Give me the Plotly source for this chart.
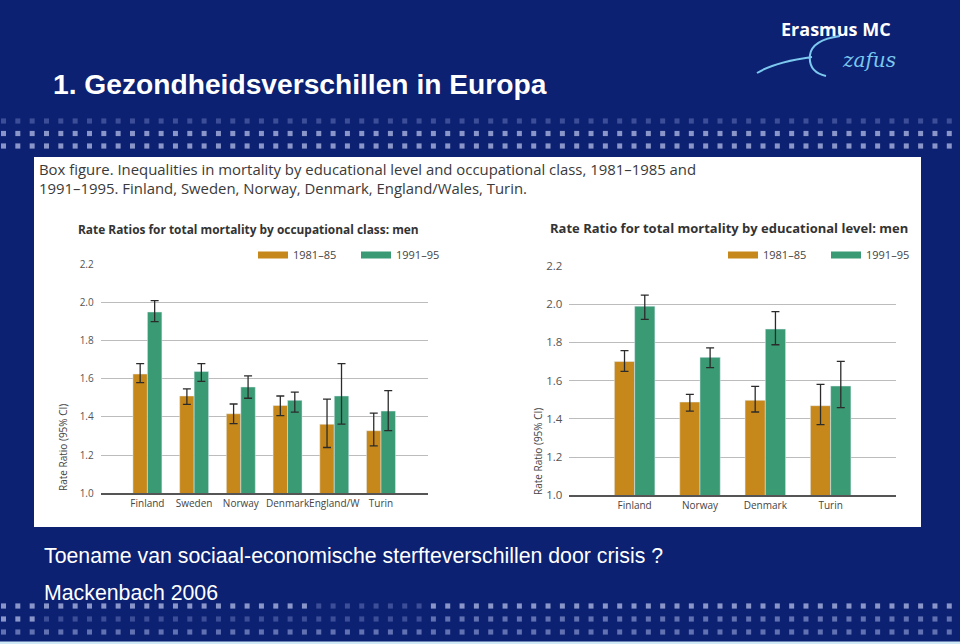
import plotly.graph_objects as go

W, H = 960, 644


def px(x):
    return x / W


def py(y):
    return 1 - y / H


# ---------------- data ----------------
occ_countries = ["Finland", "Sweden", "Norway", "Denmark", "England/W", "Turin"]
occ_1981 = [1.625, 1.51, 1.417, 1.46, 1.362, 1.328]
occ_1981_hi = [1.68, 1.547, 1.468, 1.51, 1.493, 1.42]
occ_1981_lo = [1.58, 1.466, 1.365, 1.407, 1.24, 1.248]
occ_1991 = [1.95, 1.638, 1.557, 1.487, 1.51, 1.431]
occ_1991_hi = [2.01, 1.68, 1.615, 1.53, 1.68, 1.538]
occ_1991_lo = [1.90, 1.587, 1.498, 1.425, 1.363, 1.328]

edu_countries = ["Finland", "Norway", "Denmark", "Turin"]
edu_1981 = [1.70, 1.488, 1.497, 1.469]
edu_1981_hi = [1.757, 1.528, 1.570, 1.581]
edu_1981_lo = [1.649, 1.441, 1.436, 1.370]
edu_1991 = [1.99, 1.722, 1.870, 1.572]
edu_1991_hi = [2.048, 1.771, 1.961, 1.701]
edu_1991_lo = [1.921, 1.668, 1.788, 1.459]

period_labels = ["1981–85", "1991–95"]
y_ticks = [1.0, 1.2, 1.4, 1.6, 1.8, 2.0, 2.2]

# ---------------- style ----------------
NAVY = "#0c2172"
ORANGE = "#c7881b"
GREEN = "#3a9a74"
ERR = "#2b2b2b"
FONT = "Open Sans"


def err(v, hi, lo):
    return dict(type="data", symmetric=False,
                array=[h - a for a, h in zip(v, hi)],
                arrayminus=[a - l for a, l in zip(v, lo)],
                color=ERR, thickness=1.3, width=4)


fig = go.Figure()

# left chart
fig.add_trace(go.Bar(x=occ_countries, y=occ_1981, marker_color=ORANGE,
                     error_y=err(occ_1981, occ_1981_hi, occ_1981_lo),
                     xaxis="x", yaxis="y", showlegend=False))
fig.add_trace(go.Bar(x=occ_countries, y=occ_1991, marker_color=GREEN,
                     error_y=err(occ_1991, occ_1991_hi, occ_1991_lo),
                     xaxis="x", yaxis="y", showlegend=False))
# right chart
fig.add_trace(go.Bar(x=edu_countries, y=edu_1981, marker_color=ORANGE,
                     error_y=err(edu_1981, edu_1981_hi, edu_1981_lo),
                     xaxis="x2", yaxis="y2", showlegend=False))
fig.add_trace(go.Bar(x=edu_countries, y=edu_1991, marker_color=GREEN,
                     error_y=err(edu_1991, edu_1991_hi, edu_1991_lo),
                     xaxis="x2", yaxis="y2", showlegend=False))

# legend entries (wide swatches)
for lg, xa, ya in (("legend", "x", "y"), ("legend2", "x2", "y2")):
    for name, col in zip(period_labels, (ORANGE, GREEN)):
        fig.add_trace(go.Scatter(x=[None], y=[None], mode="lines", name=name,
                                 line=dict(color=col, width=7),
                                 xaxis=xa, yaxis=ya, legend=lg, showlegend=True))

axis_common_x = dict(type="category", showgrid=False, ticks="", showline=True,
                     linecolor="#555555", linewidth=1.5, tickangle=0,
                     tickfont=dict(family=FONT, size=10, color="#444444"),
                     fixedrange=True)


def yaxis_style(fs):
    return dict(range=[1.0, 2.2], tickvals=y_ticks, tickformat=".1f",
                showgrid=True, gridcolor="#bcbcbc", gridwidth=1.2,
                zeroline=False, showline=False, ticks="",
                ticklabelstandoff=6,
                tickfont=dict(family=FONT, size=fs, color="#555555"),
                fixedrange=True)


legend_common = dict(orientation="h", yanchor="middle", xanchor="left",
                     xref="container", yref="container",
                     entrywidth=58, entrywidthmode="pixels",
                     bgcolor="rgba(0,0,0,0)", borderwidth=0,
                     font=dict(family=FONT, size=11, color="#444444"),
                     itemwidth=30, itemclick=False, itemdoubleclick=False)

shapes = []
# decorative square pattern rows
bright, medium, faint = "#8a96c9", "#6171b1", "#3c4e98"


def row(yc, colfun):
    for i in range(68):
        x0 = 1 + 14.33 * i
        shapes.append(dict(type="rect", xref="paper", yref="paper",
                           x0=px(x0), x1=px(x0 + 5), y0=py(yc + 2.6), y1=py(yc - 2.6),
                           fillcolor=colfun(x0), line=dict(width=0), layer="below"))


row(121, lambda x: faint)
row(133.5, lambda x: bright)
row(146, lambda x: bright)
row(606, lambda x: bright if (x < 308 or x > 425) else faint)
row(619, lambda x: bright if x < 42 else (medium if x > 420 else faint))
row(632, lambda x: medium)

# bottom light line
shapes.append(dict(type="rect", xref="paper", yref="paper", x0=0, x1=1,
                   y0=0, y1=py(641.5), fillcolor="#cfe8f6", line=dict(width=0), layer="below"))
# white panel
shapes.append(dict(type="rect", xref="paper", yref="paper",
                   x0=px(34), x1=px(921), y0=py(527), y1=py(157),
                   fillcolor="white", line=dict(width=0), layer="below"))


# logo swoosh
def P(x, y):
    return f"{px(x):.5f},{py(y):.5f}"


swoosh = (f"M {P(757, 73)} Q {P(775, 62)} {P(812, 57)} "
          f"M {P(840, 36)} Q {P(812, 40)} {P(810, 55)} Q {P(808, 72)} {P(826, 76)}")
shapes.append(dict(type="path", xref="paper", yref="paper", path=swoosh,
                   line=dict(color="#7cc8ee", width=2)))

annotations = [
    dict(text="<b>1. Gezondheidsverschillen in Europa</b>", x=px(51), y=py(84),
         font=dict(family="Liberation Sans", size=28.2, color="white")),
    dict(text="Toename van sociaal-economische sterfteverschillen door crisis ?",
         x=px(42), y=py(556), font=dict(family="Liberation Sans", size=21.3, color="white")),
    dict(text="Mackenbach 2006", x=px(42), y=py(593),
         font=dict(family="Liberation Sans", size=21.3, color="white")),
    dict(text="<b>Erasmus MC</b>", x=px(779), y=py(29),
         font=dict(family=FONT, size=18, color="white")),
    dict(text="<i>zafus</i>", x=px(840), y=py(60),
         font=dict(family="DejaVu Serif", size=20, color="#7cc8ee")),
    dict(text=("Box figure. Inequalities in mortality by educational level and occupational class, 1981–1985 and"
               "<br>1991–1995. Finland, Sweden, Norway, Denmark, England/Wales, Turin."),
         x=px(37), y=py(178.5), align="left",
         font=dict(family=FONT, size=14.9, color="#3a3a3a")),
    dict(text="<b>Rate Ratios for total mortality by occupational class: men</b>",
         x=px(76), y=py(229), font=dict(family=FONT, size=11.9, color="#333333")),
    dict(text="<b>Rate Ratio for total mortality by educational level: men</b>",
         x=px(548), y=py(228), font=dict(family=FONT, size=13, color="#333333")),
    dict(text="Rate Ratio (95% CI)", x=px(63), y=py(448), textangle=-90, xanchor="center",
         font=dict(family=FONT, size=10, color="#444444")),
    dict(text="Rate Ratio (95% CI)", x=px(538), y=py(452), textangle=-90, xanchor="center",
         font=dict(family=FONT, size=10, color="#444444")),
]
for a in annotations:
    a.setdefault("xref", "paper")
    a.setdefault("yref", "paper")
    a.setdefault("xanchor", "left")
    a.setdefault("yanchor", "middle")
    a["showarrow"] = False

fig.update_layout(
    width=W, height=H,
    margin=dict(l=0, r=0, t=0, b=0, autoexpand=False),
    paper_bgcolor=NAVY, plot_bgcolor="white",
    barmode="group", bargap=0.38, bargroupgap=0,
    xaxis=dict(domain=[px(100.7), px(427.7)], range=[-1, 6], anchor="y", **axis_common_x),
    yaxis=dict(domain=[py(493.3), py(264.3)], anchor="x", **yaxis_style(10)),
    xaxis2=dict(domain=[px(569.3), px(896)], range=[-1, 4], anchor="y2", **axis_common_x),
    yaxis2=dict(domain=[py(495.3), py(266)], anchor="x2", **yaxis_style(11.5)),
    legend=dict(x=px(253), y=py(255), **legend_common),
    legend2=dict(x=px(723), y=py(255), **legend_common),
    shapes=shapes,
    annotations=annotations,
    showlegend=True,
)

fig.write_html("out.html",
               config={"displayModeBar": False},
               post_script="document.body.style.margin='0';document.body.style.overflow='hidden';")
